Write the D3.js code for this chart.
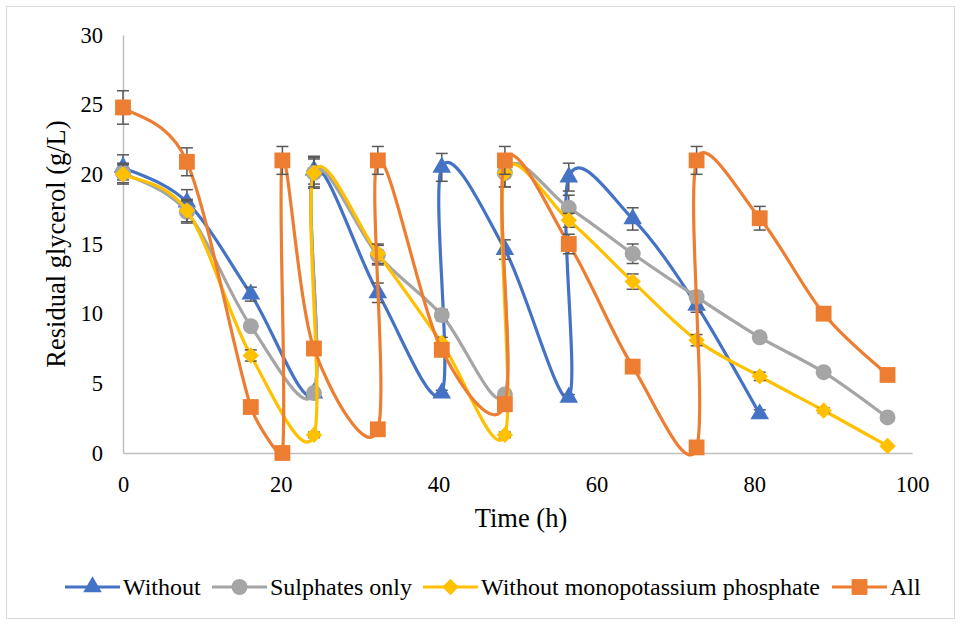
<!DOCTYPE html>
<html>
<head>
<meta charset="utf-8">
<script src="https://cdn.jsdelivr.net/npm/d3@7/dist/d3.min.js"></script>
<style>
  html, body { margin: 0; padding: 0; background: #fff; }
  svg { display: block; }
  text { font-family: "Liberation Serif", "Times New Roman", serif; fill: #000; }
</style>
</head>
<body>
<svg id="chart" width="960" height="624"></svg>
<script>
// ---- Data ----
const seriesNames = ["Without", "Sulphates only", "Without monopotassium phosphate", "All"];

const withoutTime  = [0, 8.1, 16.2, 24.2, 24.2, 32.3, 40.4, 40.4, 48.4, 56.5, 56.5, 64.6, 72.7, 80.7];
const withoutValue = [20.5, 18.0, 11.4, 4.3, 20.3, 11.5, 4.3, 20.5, 14.6, 4.0, 19.8, 16.8, 10.6, 2.8];
const withoutError = [0.9, 0.9, 0.5, 0.3, 1.0, 0.7, 0.2, 1.0, 0.7, 0.2, 1.0, 0.8, 0.5, 0.3];

const sulphatesTime  = [0, 8.1, 16.2, 24.2, 24.2, 32.3, 40.4, 48.4, 48.4, 56.5, 64.6, 72.7, 80.7, 88.8, 96.9];
const sulphatesValue = [20.1, 17.3, 9.1, 4.3, 20.1, 14.2, 9.9, 4.2, 20.1, 17.6, 14.3, 11.2, 8.3, 5.8, 2.55];
const sulphatesError = [0.7, 0.8, 0.3, 0.3, 1.1, 0.7, 0.4, 0.3, 1.0, 0.9, 0.7, 0.4, 0.3, 0.2, 0.1];

const noKH2PO4Time  = [0, 8.1, 16.2, 24.2, 24.2, 32.3, 40.4, 48.4, 48.4, 56.5, 64.6, 72.7, 80.7, 88.8, 96.9];
const noKH2PO4Value = [20.0, 17.4, 7.0, 1.3, 20.1, 14.3, 7.9, 1.3, 20.1, 16.7, 12.3, 8.1, 5.5, 3.05, 0.5];
const noKH2PO4Error = [0.7, 0.8, 0.4, 0.2, 1.0, 0.7, 0.4, 0.2, 1.0, 0.5, 0.55, 0.4, 0.3, 0.2, 0.1];

const allTime  = [0, 8.1, 16.2, 20.2, 20.2, 24.2, 32.3, 32.3, 40.4, 48.4, 48.4, 56.5, 64.6, 72.7, 72.7, 80.7, 88.8, 96.9];
const allValue = [24.8, 20.9, 3.3, 0, 21.0, 7.5, 1.7, 21.0, 7.4, 3.5, 21.0, 15.0, 6.2, 0.4, 21.0, 16.85, 10.0, 5.6];
const allError = [1.2, 1.0, 0.3, 0, 1.0, 0.4, 0.2, 1.0, 0.4, 0.3, 1.0, 0.7, 0.3, 0.1, 1.0, 0.85, 0.3, 0.3];

const xTicks = [0, 20, 40, 60, 80, 100];
const yTicks = [0, 5, 10, 15, 20, 25, 30];
const xTitle = "Time (h)";
const yTitle = "Residual glycerol (g/L)";

// ---- Styling ----
const colors  = ["#4472C4", "#A5A5A5", "#FFC000", "#ED7D31"];
const symbols = [d3.symbolTriangle, d3.symbolCircle, d3.symbolSquare, d3.symbolSquare];
const symSize = [150, 200, 135, 250];
const symRot  = [0, 0, 45, 0];

const series = [
  { name: seriesNames[0], t: withoutTime,   v: withoutValue,   e: withoutError },
  { name: seriesNames[1], t: sulphatesTime, v: sulphatesValue, e: sulphatesError },
  { name: seriesNames[2], t: noKH2PO4Time,  v: noKH2PO4Value,  e: noKH2PO4Error },
  { name: seriesNames[3], t: allTime,       v: allValue,       e: allError }
].map((s, i) => ({
  ...s, color: colors[i], symbol: symbols[i], size: symSize[i], rot: symRot[i],
  points: s.t.map((t, j) => ({ t, v: s.v[j], e: s.e[j] }))
}));

const svg = d3.select("#chart");
const W = 960, H = 624;

svg.append("rect").attr("x", 0).attr("y", 0).attr("width", W).attr("height", H).attr("fill", "#fff");
svg.append("rect").attr("x", 6.5).attr("y", 6.5).attr("width", 948).attr("height", 612)
  .attr("fill", "none").attr("stroke", "#d9d9d9").attr("stroke-width", 1);

const plot = { left: 123, right: 912, top: 35, bottom: 453 };
const x = d3.scaleLinear().domain([0, 100]).range([plot.left, plot.right]);
const y = d3.scaleLinear().domain([0, 30]).range([plot.bottom, plot.top]);

// Axes
const xAxis = svg.append("g").attr("transform", `translate(0,${plot.bottom})`)
  .call(d3.axisBottom(x).tickValues(xTicks).tickSize(0).tickPadding(23).tickFormat(d3.format("d")));
const yAxis = svg.append("g").attr("transform", `translate(${plot.left},0)`)
  .call(d3.axisLeft(y).tickValues(yTicks).tickSize(0).tickPadding(20).tickFormat(d3.format("d")));
[xAxis, yAxis].forEach(a => {
  a.select(".domain").attr("stroke", "#bfbfbf").attr("stroke-width", 1.5);
  a.selectAll("text").attr("font-size", 22.5).attr("font-family", "Liberation Serif");
});

svg.append("text").attr("x", 521).attr("y", 527)
  .attr("text-anchor", "middle").attr("font-size", 26.5).text(xTitle);
svg.append("text").attr("transform", `translate(65,244) rotate(-90)`)
  .attr("text-anchor", "middle").attr("font-size", 26.5).text(yTitle);

// Smoothed path (Bezier with Catmull-Rom style tangents, damped next to very short segments)
function smoothPath(pts) {
  const P = pts.map(d => [x(d.t), y(d.v)]);
  const D = pts.map(d => [d.t, d.v]);
  const len = (a, b) => Math.hypot(b[0] - a[0], b[1] - a[1]);
  const damp = (seg, other) => {
    if (other <= 0) return 1;
    const r = seg / other;
    return Math.min(1, Math.pow(r / 0.5, 2));
  };
  const p = d3.path();
  p.moveTo(P[0][0], P[0][1]);
  for (let i = 0; i < P.length - 1; i++) {
    const i0 = Math.max(0, i - 1), i3 = Math.min(P.length - 1, i + 2);
    const p0 = P[i0], p1 = P[i], p2 = P[i + 1], p3 = P[i3];
    const dSeg = len(D[i], D[i + 1]);
    const s1 = damp(dSeg, len(D[i0], D[i]));
    const s2 = damp(dSeg, len(D[i + 1], D[i3]));
    const c1 = [p1[0] + (p2[0] - p0[0]) / 6 * s1, p1[1] + (p2[1] - p0[1]) / 6 * s1];
    const c2 = [p2[0] - (p3[0] - p1[0]) / 6 * s2, p2[1] - (p3[1] - p1[1]) / 6 * s2];
    p.bezierCurveTo(c1[0], c1[1], c2[0], c2[1], p2[0], p2[1]);
  }
  return p.toString();
}

const errColor = "#595959";
series.forEach(s => {
  const g = svg.append("g");
  g.append("path").attr("d", smoothPath(s.points))
    .attr("fill", "none").attr("stroke", s.color).attr("stroke-width", 3.2)
    .attr("stroke-linejoin", "round").attr("stroke-linecap", "round");

  const eb = g.append("g").selectAll("g").data(s.points.filter(p => p.e > 0)).join("g");
  eb.append("line").attr("x1", d => x(d.t)).attr("x2", d => x(d.t))
    .attr("y1", d => y(d.v + d.e)).attr("y2", d => y(d.v - d.e))
    .attr("stroke", errColor).attr("stroke-width", 1.5);
  eb.append("line").attr("x1", d => x(d.t) - 6).attr("x2", d => x(d.t) + 6)
    .attr("y1", d => y(d.v + d.e)).attr("y2", d => y(d.v + d.e))
    .attr("stroke", errColor).attr("stroke-width", 1.5);
  eb.append("line").attr("x1", d => x(d.t) - 6).attr("x2", d => x(d.t) + 6)
    .attr("y1", d => y(d.v - d.e)).attr("y2", d => y(d.v - d.e))
    .attr("stroke", errColor).attr("stroke-width", 1.5);

  g.append("g").selectAll("path").data(s.points).join("path")
    .attr("transform", d => `translate(${x(d.t)},${y(d.v)}) rotate(${s.rot})`)
    .attr("d", d3.symbol().type(s.symbol).size(s.size))
    .attr("fill", s.color);
});

// Legend
const legendY = 587;
const legendX = [65, 212, 423, 832];
series.forEach((s, i) => {
  const g = svg.append("g").attr("transform", `translate(${legendX[i]},${legendY})`);
  g.append("line").attr("x1", 0).attr("x2", 55).attr("y1", 0).attr("y2", 0)
    .attr("stroke", s.color).attr("stroke-width", 3.2);
  g.append("path").attr("transform", `translate(27.5,0) rotate(${s.rot})`)
    .attr("d", d3.symbol().type(s.symbol).size(s.size)).attr("fill", s.color);
  g.append("text").attr("x", 58).attr("y", 8).attr("font-size", 24).text(s.name);
});
</script>
</body>
</html>
